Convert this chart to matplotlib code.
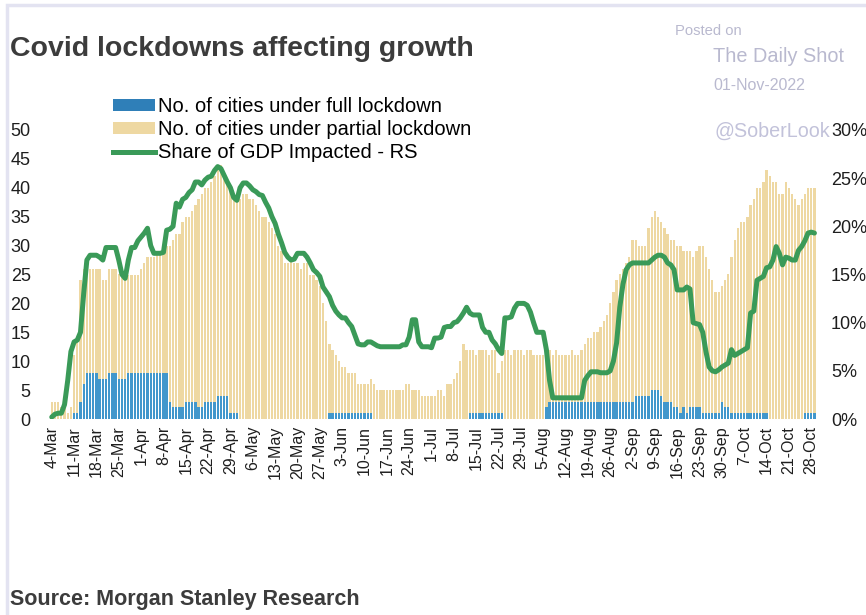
import numpy as np
import pandas as pd
import matplotlib
matplotlib.use("Agg")
import matplotlib.pyplot as plt
from matplotlib.patches import Patch, Rectangle
from matplotlib.lines import Line2D

plt.rcParams["font.family"] = ["Liberation Sans", "DejaVu Sans"]

# daily observations, 4-Mar-2022 .. 29-Oct-2022
dates = pd.date_range("2022-03-04", "2022-10-29", freq="D")

full_lockdown = [
    0, 0, 0, 0, 0, 0, 0, 1, 1, 3,
    6, 8, 8, 8, 8, 7, 7, 7, 8, 8,
    8, 7, 7, 7, 8, 8, 8, 8, 8, 8,
    8, 8, 8, 8, 8, 8, 8, 3, 2, 2,
    2, 2, 3, 3, 3, 3, 2, 2, 3, 3,
    3, 3, 4, 4, 4, 4, 1, 1, 1, 0,
    0, 0, 0, 0, 0, 0, 0, 0, 0, 0,
    0, 0, 0, 0, 0, 0, 0, 0, 0, 0,
    0, 0, 0, 0, 0, 0, 0, 1, 1, 1,
    1, 1, 1, 1, 1, 1, 1, 1, 1, 1,
    1, 0, 0, 0, 0, 0, 0, 0, 0, 0,
    0, 0, 0, 0, 0, 0, 0, 0, 0, 0,
    0, 0, 0, 0, 0, 0, 0, 0, 0, 0,
    0, 1, 1, 1, 1, 1, 1, 1, 1, 1,
    1, 1, 0, 0, 0, 0, 0, 0, 0, 0,
    0, 0, 0, 0, 0, 2, 3, 3, 3, 3,
    3, 3, 3, 3, 3, 3, 3, 3, 3, 3,
    3, 3, 3, 3, 3, 3, 3, 3, 3, 3,
    3, 3, 3, 4, 4, 4, 4, 4, 5, 5,
    5, 4, 3, 3, 3, 2, 2, 1, 2, 1,
    2, 2, 2, 2, 1, 1, 1, 1, 1, 1,
    3, 2, 2, 1, 1, 1, 1, 1, 1, 1,
    1, 1, 1, 1, 1, 0, 0, 0, 0, 0,
    0, 0, 0, 0, 0, 0, 1, 1, 1, 1,
]

partial_lockdown = [
    3, 3, 3, 2, 2, 1, 2, 10, 13, 21,
    20, 18, 18, 18, 18, 19, 17, 17, 18, 18,
    18, 18, 18, 18, 17, 17, 17, 17, 18, 19,
    20, 20, 20, 21, 21, 21, 22, 27, 29, 30,
    30, 32, 32, 32, 33, 34, 36, 37, 37, 37,
    38, 39, 39, 40, 38, 37, 39, 38, 37, 38,
    39, 39, 38, 38, 37, 36, 35, 35, 34, 33,
    32, 30, 29, 27, 27, 28, 27, 27, 26, 27,
    27, 25, 25, 24, 23, 20, 17, 12, 11, 10,
    9, 8, 8, 7, 7, 7, 5, 5, 5, 5,
    6, 6, 5, 5, 5, 5, 5, 5, 5, 5,
    5, 6, 6, 5, 5, 5, 4, 4, 4, 4,
    4, 5, 5, 4, 6, 6, 7, 8, 10, 13,
    12, 11, 11, 10, 11, 11, 11, 10, 11, 11,
    7, 9, 12, 12, 11, 12, 12, 12, 11, 12,
    12, 11, 11, 11, 11, 10, 9, 8, 9, 8,
    8, 8, 8, 9, 8, 8, 9, 10, 11, 11,
    12, 12, 13, 14, 15, 17, 19, 21, 22, 23,
    24, 25, 28, 27, 26, 26, 26, 29, 30, 31,
    30, 30, 30, 29, 28, 29, 28, 29, 27, 28,
    27, 26, 27, 28, 29, 27, 25, 23, 21, 21,
    20, 22, 23, 27, 30, 32, 33, 33, 34, 36,
    37, 39, 39, 40, 42, 42, 41, 41, 39, 39,
    41, 40, 39, 38, 37, 38, 38, 39, 39, 39,
]

# share of GDP impacted, percent (right scale)
gdp_share = [
    0.2, 0.5, 0.6, 0.6, 1.5, 4.0, 7.0, 8.0, 8.2, 9.0,
    13.0, 16.5, 17.0, 17.0, 17.0, 16.8, 16.5, 17.8, 17.8, 17.8,
    17.8, 16.5, 15.0, 14.6, 16.5, 17.8, 17.8, 18.5, 18.9, 19.3,
    19.8, 18.0, 17.2, 17.2, 17.2, 17.3, 19.6, 19.7, 20.0, 22.4,
    22.0, 22.8, 23.0, 23.5, 23.8, 24.6, 24.6, 24.3, 24.8, 25.1,
    25.2, 25.8, 26.2, 26.0, 25.3, 24.6, 24.0, 23.0, 22.7, 24.0,
    24.5, 24.5, 24.2, 23.8, 23.6, 23.3, 23.2, 22.5, 21.9, 21.0,
    20.3, 19.2, 18.3, 17.3, 16.8, 16.5, 16.6, 17.2, 17.2, 17.2,
    16.8, 16.2, 15.5, 15.2, 14.8, 13.7, 13.2, 12.7, 11.8, 11.2,
    10.8, 10.5, 10.5, 10.0, 9.6, 8.7, 7.8, 7.7, 7.7, 8.0,
    8.0, 7.8, 7.6, 7.5, 7.5, 7.5, 7.5, 7.5, 7.5, 7.5,
    7.7, 7.7, 8.5, 10.3, 10.3, 8.0, 7.5, 7.5, 7.5, 7.4,
    8.4, 8.4, 8.5, 9.5, 9.6, 9.6, 10.0, 10.1, 10.5, 11.0,
    11.6, 11.0, 10.8, 10.8, 10.8, 9.5, 9.0, 9.0, 8.2, 7.8,
    7.2, 6.8, 10.5, 10.5, 10.6, 11.5, 12.0, 12.0, 12.0, 11.8,
    11.1, 10.0, 9.0, 9.0, 9.0, 7.2, 4.0, 2.2, 2.2, 2.2,
    2.2, 2.2, 2.2, 2.2, 2.2, 2.2, 2.2, 4.0, 4.5, 4.9,
    4.9, 4.9, 4.8, 4.8, 4.8, 5.0, 6.0, 7.9, 11.6, 14.0,
    15.5, 16.0, 16.2, 16.2, 16.2, 16.2, 16.2, 16.2, 16.5, 16.8,
    17.0, 17.0, 16.8, 16.2, 16.0, 15.5, 13.4, 13.4, 13.4, 13.7,
    13.5, 10.0, 9.9, 9.8, 9.0, 7.0, 5.4, 5.0, 4.9, 5.1,
    5.4, 5.6, 5.8, 7.2, 6.6, 6.8, 7.0, 7.2, 7.4, 11.0,
    11.2, 14.4, 14.6, 14.8, 15.7, 15.8, 16.5, 17.9, 17.2, 16.0,
    16.8, 16.7, 16.5, 16.5, 17.5, 17.9, 18.5, 19.3, 19.4, 19.3,
]

left_ticks = [0, 5, 10, 15, 20, 25, 30, 35, 40, 45, 50]
right_ticks = [0, 5, 10, 15, 20, 25, 30]

BLUE = "#4197cc"
TAN = "#eed8a2"
GREEN = "#3a9a58"
TEXT = "#1e1e1e"
MARK = "#b9b9cf"

x = np.arange(len(dates))
tick_pos = x[::7]
tick_lbl = [f"{d.day}-{d:%b}" for d in dates[::7]]

fig = plt.figure(figsize=(8.66, 6.15), dpi=100)
W, H = 866, 615

# light frame round the card
fig.add_artist(Rectangle((7 / W, -0.02), 1.1, (H - 5) / H + 0.02, transform=fig.transFigure,
                         fill=False, edgecolor="#e3e3f1", linewidth=2.5))

ax = fig.add_axes([39 / W, 1 - 419 / H, 785 / W, 289 / H])
ax.bar(x, full_lockdown, width=0.72, color=BLUE, linewidth=0)
ax.bar(x, partial_lockdown, bottom=full_lockdown, width=0.72, color=TAN, linewidth=0)
ax.set_xlim(-4, 242)
ax.set_ylim(0, 50)
ax.set_yticks(left_ticks)
ax.set_xticks(tick_pos)
ax.set_xticklabels(tick_lbl, rotation=90)
ax.tick_params(axis="x", length=0, labelsize=11.5, colors=TEXT, pad=5)
ax.tick_params(axis="y", length=0, labelsize=13, colors=TEXT, pad=6)
for s in ax.spines.values():
    s.set_visible(False)

ax2 = ax.twinx()
ax2.plot(x, gdp_share, color=GREEN, lw=3.6, solid_joinstyle="round", solid_capstyle="round")
ax2.set_ylim(0, 30)
ax2.set_yticks(right_ticks)
ax2.set_yticklabels([f"{t}%" for t in right_ticks])
ax2.tick_params(axis="y", length=0, labelsize=13, colors=TEXT, pad=5)
for s in ax2.spines.values():
    s.set_visible(False)

handles = [
    Patch(facecolor="#2f7fb8", edgecolor="none"),
    Patch(facecolor=TAN, edgecolor="none"),
    Line2D([], [], color=GREEN, lw=3.6),
]
labels = [
    "No. of cities under full lockdown",
    "No. of cities under partial lockdown",
    "Share of GDP Impacted - RS",
]
fig.legend(handles, labels, loc="upper left", bbox_to_anchor=(113 / W, 1 - 97 / H),
           frameon=False, fontsize=14.5, handlelength=2.1, handleheight=0.5,
           handletextpad=0.15, labelspacing=0.2, borderaxespad=0, borderpad=0)

fig.text(10 / W, 1 - 49 / H, "Covid lockdowns affecting growth", fontsize=20.5,
         fontweight="bold", color="#3c3c3c", va="center", ha="left")
fig.text(10 / W, 1 - 600 / H, "Source: Morgan Stanley Research", fontsize=15.5,
         fontweight="bold", color="#3c3c3c", va="center", ha="left")

fig.text(675 / W, 1 - 31 / H, "Posted on", fontsize=10.6, color=MARK, va="center")
fig.text(713 / W, 1 - 56 / H, "The Daily Shot", fontsize=14.3, color=MARK, va="center")
fig.text(713 / W, 1 - 85 / H, "01-Nov-2022", fontsize=11.5, color=MARK, va="center")
fig.text(714 / W, 1 - 131 / H, "@SoberLook", fontsize=14.2, color="#c2c2da", va="center")

fig.savefig("out.png", dpi=100, facecolor="white")
